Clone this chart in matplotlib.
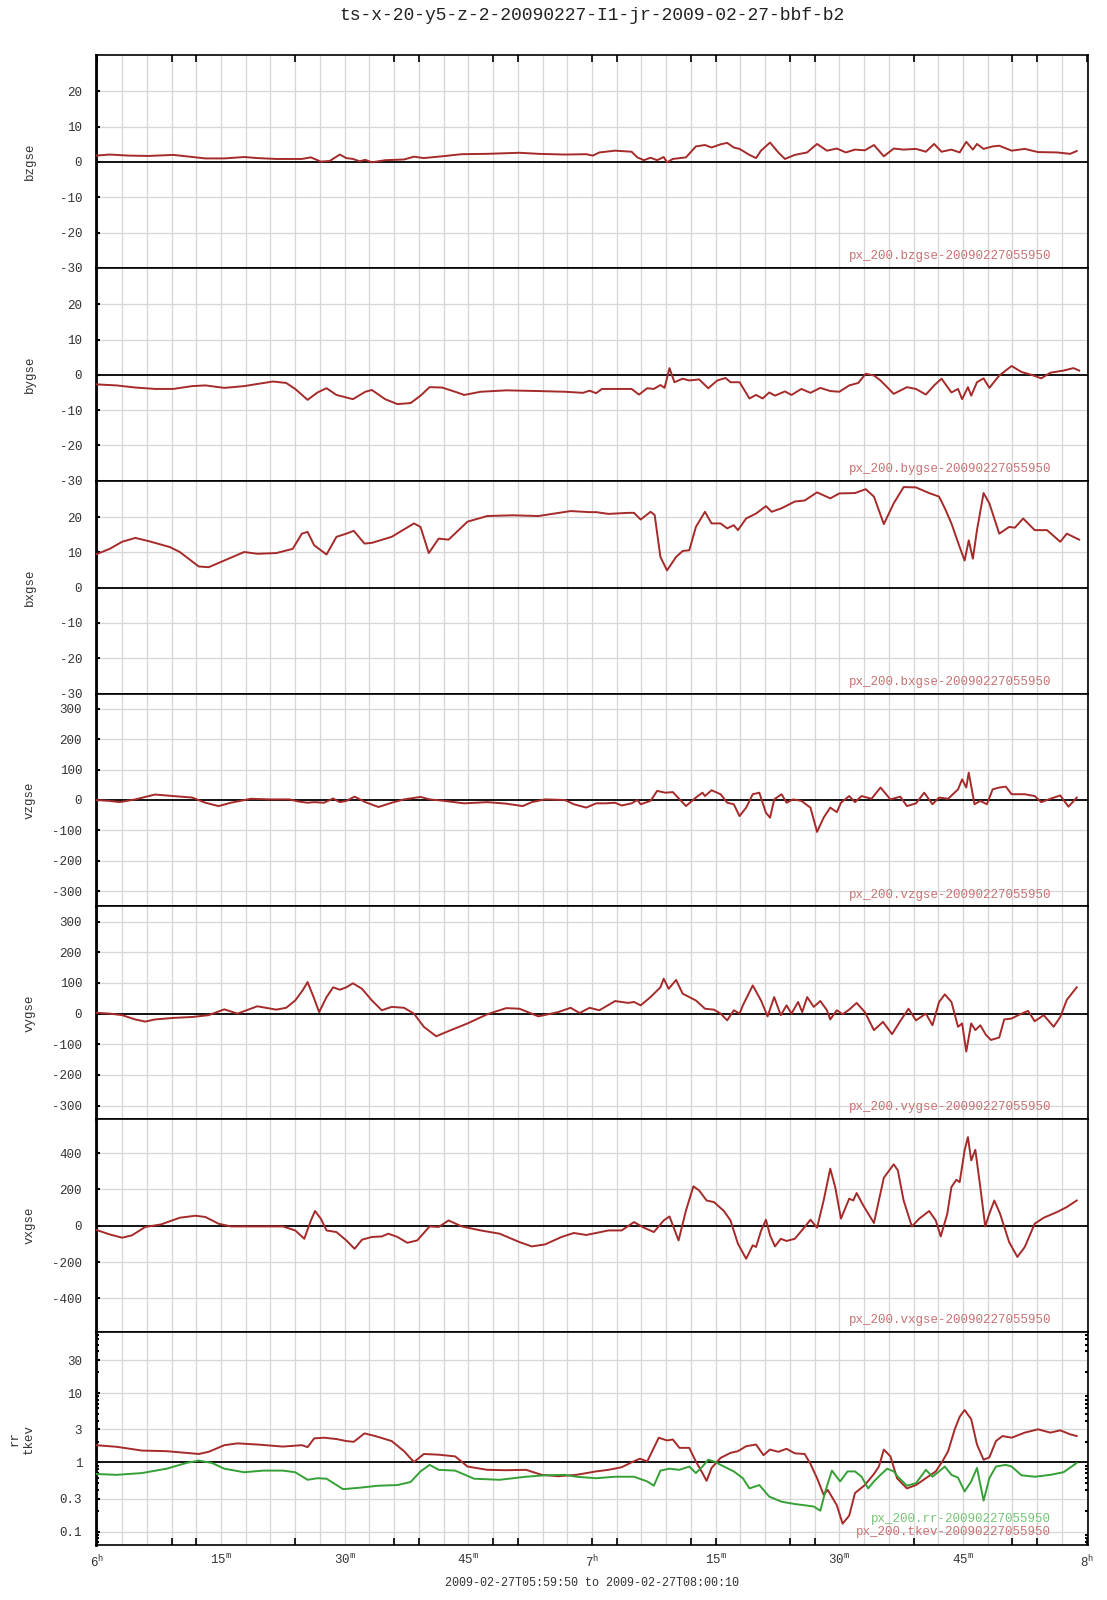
import matplotlib
matplotlib.use('Agg')
import matplotlib.pyplot as plt
from matplotlib.ticker import FixedLocator, NullFormatter
import numpy as np

plt.rcParams['font.family'] = ['Liberation Mono', 'DejaVu Sans Mono']
plt.rcParams['axes.unicode_minus'] = False
plt.rcParams['mathtext.fontset'] = 'custom'
plt.rcParams['mathtext.rm'] = 'Liberation Mono'

# ---------------- data (time in minutes after 06:00) ----------------
bz_t = [-0.2, 1.5, 3.8, 6.2, 9.2, 10.8, 13.1, 15.4, 17.8, 19.4, 21.7, 24.8, 25.9, 26.7, 27.1, 28.2, 29.4, 30.2,
        31.0, 31.8, 32.5, 33.3, 34.9, 37.2, 38.4, 39.6, 41.8, 44.2, 47.3, 51.2, 53.5, 56.7, 59.3, 60.1, 60.9,
        62.8, 64.8, 65.5, 66.3, 67.1, 67.9, 68.7, 69.1, 69.8, 71.4, 72.6, 73.7, 74.5, 75.6, 76.4, 77.2, 77.9,
        79.1, 79.9, 80.5, 81.6, 82.6, 83.4, 84.6, 86.1, 87.3, 88.5, 89.7, 90.8, 91.9, 93.1, 94.2, 95.4, 96.6,
        97.8, 99.3, 100.5, 101.5, 102.4, 103.6, 104.6, 105.4, 106.2, 106.7, 107.5, 108.6, 109.4, 110.9, 112.5,
        114.1, 116.4, 118.0, 118.8]
bz_v = [1.8, 2.1, 1.8, 1.7, 2.0, 1.6, 1.0, 1.0, 1.4, 1.1, 0.85, 0.85, 1.3, 0.5, 0.1, 0.3, 2.1, 1.1,
        0.85, 0.2, 0.6, -0.1, 0.5, 0.7, 1.5, 1.1, 1.6, 2.2, 2.3, 2.6, 2.3, 2.1, 2.2, 1.8, 2.7,
        3.2, 2.9, 1.3, 0.5, 1.2, 0.5, 1.4, -0.1, 0.85, 1.3, 4.4, 4.8, 4.1, 5.0, 5.4, 4.1, 3.7,
        2.0, 1.1, 3.2, 5.5, 2.7, 0.85, 2.0, 2.7, 5.1, 3.2, 3.8, 2.7, 3.5, 3.3, 4.8, 1.6, 3.8,
        3.5, 3.7, 2.9, 5.1, 2.9, 3.5, 2.7, 5.7, 3.5, 5.1, 3.7, 4.4, 4.6, 3.2, 3.7,
        2.8, 2.7, 2.3, 3.1]

by_t = [-0.2, 2.3, 4.6, 7.0, 9.2, 11.5, 13.1, 15.4, 17.8, 19.4, 21.3, 22.9, 24.0, 25.5, 26.7, 27.8, 29.0,
        31.0, 32.5, 33.3, 34.9, 36.4, 38.0, 39.2, 40.3, 41.8, 43.4, 44.5, 46.5, 49.6, 53.5, 56.7, 58.9,
        59.7, 60.5, 61.2, 62.8, 64.8, 65.7, 66.7, 67.5, 68.3, 68.8, 69.4, 70.0, 71.0, 71.8, 73.0, 74.1,
        75.2, 76.2, 76.8, 77.9, 79.1, 79.9, 80.7, 81.5, 82.2, 83.4, 84.2, 85.4, 86.5, 87.7, 88.9, 90.0,
        91.2, 92.3, 93.2, 94.2, 95.0, 96.6, 98.2, 99.3, 100.5, 101.5, 102.4, 103.6, 104.4, 104.9, 105.6,
        106.0, 106.7, 107.5, 108.2, 109.4, 110.9, 112.1, 113.3, 114.5, 115.6, 117.2, 118.4, 119.1]
by_v = [-2.7, -3.0, -3.6, -4.0, -4.0, -3.2, -3.0, -3.7, -3.2, -2.6, -1.9, -2.3, -4.0, -7.1, -5.0, -3.8, -5.7,
        -6.9, -4.8, -4.3, -6.9, -8.3, -8.0, -5.9, -3.5, -3.6, -4.8, -5.7, -4.8, -4.4, -4.6, -4.8, -5.1,
        -4.5, -5.2, -4.0, -4.0, -4.0, -5.6, -3.8, -4.0, -2.9, -3.7, 1.9, -2.1, -1.1, -1.6, -1.3, -3.8,
        -1.6, -0.9, -2.1, -2.1, -6.7, -5.7, -6.7, -5.0, -5.9, -4.7, -5.7, -4.0, -5.1, -3.7, -4.6, -4.8,
        -3.0, -2.3, 0.3, -0.2, -1.6, -5.4, -3.5, -4.0, -5.6, -3.0, -1.1, -5.0, -4.0, -6.9, -3.5,
        -5.9, -2.1, -1.0, -3.7, -0.2, 2.5, 0.8, 0.0, -1.0, 0.6, 1.2, 1.9, 1.2]

bx_t = [-0.2, 1.5, 3.0, 4.6, 6.2, 8.8, 10.0, 12.3, 13.5, 15.4, 17.8, 19.4, 21.7, 23.7, 24.8, 25.5, 26.3,
        27.8, 29.0, 30.2, 31.1, 32.4, 33.3, 35.7, 38.4, 39.2, 40.2, 41.4, 42.6, 44.9, 47.3, 50.4, 53.5,
        57.4, 59.7, 60.5, 62.0, 64.4, 65.1, 65.9, 67.1, 67.6, 68.3, 69.1, 70.2, 71.0, 71.8, 72.6, 73.7,
        74.5, 75.6, 76.4, 77.2, 77.7, 78.7, 79.9, 81.1, 81.8, 83.0, 84.6, 85.8, 87.3, 88.9, 90.0, 91.9,
        93.2, 94.2, 95.4, 96.6, 97.8, 99.3, 100.9, 102.1, 102.8, 103.6, 104.6, 105.2, 105.7, 106.2, 106.7,
        107.5, 108.2, 109.4, 110.6, 111.3, 112.3, 113.7, 115.2, 116.8, 117.6, 119.1]
bx_v = [9.4, 11.0, 13.0, 14.1, 13.2, 11.5, 10.1, 6.0, 5.8, 7.7, 10.1, 9.6, 9.8, 11.0, 15.3, 15.8, 12.0,
        9.4, 14.4, 15.3, 16.1, 12.5, 12.7, 14.4, 18.2, 17.2, 9.8, 13.9, 13.6, 18.7, 20.3, 20.5, 20.3,
        21.7, 21.4, 21.4, 20.9, 21.2, 21.2, 19.3, 21.5, 20.6, 8.7, 4.9, 8.7, 10.4, 10.6, 17.2, 21.5,
        18.2, 18.2, 16.8, 17.7, 16.3, 19.6, 21.0, 23.1, 21.5, 22.5, 24.4, 24.7, 27.0, 25.3, 26.7, 26.8,
        27.9, 25.8, 18.0, 23.9, 28.5, 28.4, 26.8, 25.8, 22.5, 18.2, 11.5, 7.7, 13.4, 8.2, 16.3,
        26.8, 23.9, 15.3, 17.2, 17.0, 19.6, 16.3, 16.3, 13.0, 15.3, 13.6]

vz_t = [-0.2, 1.5, 2.7, 4.6, 7.0, 9.2, 11.5, 13.1, 14.7, 16.2, 18.6, 20.9, 23.3, 24.4, 25.5, 26.3, 27.5,
        28.6, 29.4, 30.2, 31.2, 32.5, 34.1, 35.7, 37.2, 39.2, 40.3, 41.8, 44.5, 47.3, 49.6, 51.6, 52.7,
        54.3, 56.7, 57.8, 59.3, 60.5, 61.6, 62.8, 63.6, 64.8, 65.5, 65.9, 67.1, 67.9, 68.9, 69.8, 71.4,
        72.6, 73.4, 73.7, 74.5, 75.6, 76.4, 77.2, 77.9, 78.7, 79.5, 80.3, 81.1, 81.6, 82.1, 83.0, 83.6,
        84.4, 85.4, 86.5, 87.3, 88.1, 88.9, 89.7, 90.2, 91.2, 91.9, 92.7, 93.9, 95.0, 96.2, 97.4, 98.2,
        99.3, 100.3, 101.3, 102.1, 103.2, 104.4, 104.9, 105.4, 105.7, 106.4, 107.1, 107.9, 108.6, 109.4,
        110.2, 110.9, 112.5, 113.7, 114.5, 115.6, 116.8, 117.8, 118.8]
vz_v = [0, -3, -7, 2, 18, 13, 8, -9, -20, -9, 4, 2, 2, -5, -9, -7, -9,
        5, -7, -3, 11, -7, -23, -9, 2, 10, 2, -2, -11, -7, -12, -20, -7,
        2, 0, -14, -25, -11, -11, -9, -18, -11, 0, -14, -3, 30, 24, 26, -20,
        8, 24, 13, 32, 19, -9, -14, -53, -25, 19, 24, -42, -58, 2, 19, -9,
        2, -3, -25, -105, -58, -25, -40, -9, 13, -7, 13, 4, 41, 2, 11, -20,
        -11, 24, -14, 8, 4, 35, 68, 41, 90, -14, -3, -14, 35, 41,
        44, 19, 19, 13, -7, 4, 15, -22, 8]

vy_t = [-0.2, 1.5, 3.0, 4.6, 5.8, 7.0, 9.2, 11.5, 13.5, 15.4, 17.0, 19.4, 21.7, 22.9, 24.0, 24.9, 25.5,
        26.3, 26.9, 27.8, 28.6, 29.4, 30.2, 31.0, 32.1, 33.3, 34.5, 35.7, 37.2, 38.4, 39.6, 41.1, 42.6,
        44.9, 47.3, 49.6, 51.2, 53.5, 55.9, 57.4, 58.5, 59.7, 60.9, 62.8, 64.4, 65.1, 65.9, 67.1, 68.3,
        68.7, 69.3, 70.2, 71.0, 72.6, 73.7, 74.8, 75.6, 76.4, 77.2, 77.9, 78.3, 79.5, 80.5, 81.3, 82.1,
        82.9, 83.6, 84.2, 85.0, 85.5, 86.1, 86.9, 87.7, 88.5, 88.9, 89.7, 90.4, 91.2, 92.1, 93.1, 94.2,
        95.3, 96.4, 97.4, 98.4, 99.3, 100.5, 101.3, 102.1, 102.8, 103.6, 104.4, 104.9, 105.4, 106.0,
        106.5, 107.1, 107.8, 108.4, 109.4, 110.0, 110.9, 111.7, 112.9, 113.7, 114.8, 116.0, 116.8, 117.6,
        118.8]
vy_v = [3, 0, -5, -19, -26, -19, -14, -11, -5, 14, 0, 24, 13, 19, 43, 76, 103,
        49, 5, 54, 86, 78, 86, 99, 81, 43, 11, 22, 19, 0, -43, -74, -57,
        -32, -2, 18, 16, -9, 5, 19, 2, 19, 11, 41, 35, 38, 27, 54, 86,
        114, 81, 110, 65, 43, 16, 13, 0, -22, 11, 0, 27, 92, 43, -9, 54,
        -5, 27, 0, 38, 5, 54, 22, 41, 11, -19, 11, -2, 13, 35, 5, -54,
        -27, -67, -24, 16, -22, 0, -38, 38, 63, 38, -43, -32, -124, -32,
        -54, -38, -70, -86, -78, -19, -16, -5, 9, -25, -5, -43, -11, 45,
        86]

vx_t = [-0.2, 1.5, 3.0, 4.2, 5.8, 7.7, 10.0, 11.9, 13.1, 14.7, 16.2, 19.4, 22.5, 24.0, 25.1, 25.9, 26.4,
        27.1, 27.8, 29.0, 30.2, 31.2, 32.1, 33.3, 34.5, 35.3, 36.4, 37.6, 38.8, 40.3, 41.4, 42.6, 44.2,
        46.5, 48.8, 51.2, 52.7, 54.3, 56.3, 57.8, 59.3, 60.5, 62.0, 63.6, 65.1, 66.3, 67.5, 68.7, 69.4,
        70.5, 71.4, 72.3, 73.0, 73.9, 74.8, 76.0, 76.8, 77.7, 78.7, 79.5, 79.9, 80.5, 81.1, 81.6, 82.2,
        82.9, 83.6, 84.6, 85.8, 86.5, 87.3, 88.1, 88.9, 89.5, 90.2, 91.2, 91.7, 92.1, 92.9, 94.2, 95.4,
        96.6, 97.1, 97.8, 98.8, 99.7, 100.9, 101.7, 102.3, 103.1, 103.6, 104.2, 104.6, 105.2, 105.6,
        106.0, 106.5, 107.1, 107.7, 108.2, 108.8, 109.5, 110.6, 111.6, 112.5, 113.7, 114.8, 116.4, 117.6,
        118.8]
vx_v = [-22, -48, -66, -53, -7, 7, 44, 55, 48, 11, -4, -4, -4, -26, -72, 29, 81,
        39, -26, -35, -81, -127, -77, -62, -59, -44, -62, -94, -81, -4, -7, 29, -4,
        -26, -44, -90, -114, -103, -62, -40, -51, -40, -26, -26, 20, -11, -35, 29, 51,
        -81, 84, 217, 194, 139, 130, 81, 29, -99, -182, -108, -117, -29, 33, -53, -114,
        -72, -84, -72, -7, 33, -11, 139, 314, 213, 39, 149, 139, 180, 112, 15, 264,
        338, 305, 139, -4, 39, 81, 29, -59, 66, 213, 253, 240, 415, 488,
        360, 418, 213, -4, 66, 139, 66, -90, -172, -117, 11, 44, 75, 103,
        139]

tkev_t = [-0.2, 2.3, 5.4, 8.4, 10.8, 12.3, 13.5, 15.4, 17.0, 19.4, 22.5, 24.8, 25.5, 26.3, 27.5, 29.0,
          30.2, 31.1, 32.4, 33.7, 35.7, 37.2, 38.4, 39.6, 41.4, 43.4, 44.9, 47.3, 49.6, 52.0, 53.9, 55.9,
          58.1, 60.5, 62.0, 63.6, 64.8, 65.8, 66.7, 67.5, 68.1, 69.1, 69.8, 70.6, 71.8, 72.6, 73.4, 73.9,
          74.5, 75.6, 76.8, 77.7, 78.7, 79.9, 80.8, 81.6, 82.6, 83.6, 84.6, 85.8, 86.5, 87.3, 88.1, 88.6,
          89.7, 90.4, 91.2, 91.9, 93.1, 94.2, 94.8, 95.4, 96.2, 97.0, 98.2, 99.3, 100.5, 101.7, 102.5,
          103.2, 104.0, 104.6, 105.2, 106.0, 106.7, 107.5, 108.2, 109.0, 109.8, 110.9, 112.5, 114.1, 115.6,
          116.8, 118.0, 118.8]
tkev_v = [1.77, 1.68, 1.48, 1.45, 1.37, 1.32, 1.42, 1.77, 1.88, 1.81, 1.69, 1.77, 1.66, 2.22, 2.27, 2.17,
          2.03, 1.98, 2.62, 2.40, 2.03, 1.45, 1.01, 1.32, 1.29, 1.22, 0.87, 0.78, 0.77, 0.78, 0.66, 0.63,
          0.66, 0.74, 0.78, 0.85, 1.0, 1.13, 1.03, 1.62, 2.27, 2.07, 2.14, 1.62, 1.62, 1.03, 0.70, 0.54,
          0.83, 1.16, 1.37, 1.45, 1.71, 1.81, 1.27, 1.53, 1.42, 1.57, 1.35, 1.32, 0.95, 0.59, 0.34, 0.40,
          0.24, 0.13, 0.17, 0.36, 0.47, 0.68, 0.87, 1.53, 1.22, 0.59, 0.42, 0.47, 0.59, 0.74, 1.03,
          1.45, 3.0, 4.55, 5.7, 4.2, 1.81, 1.09, 1.18, 2.03, 2.40, 2.27, 2.69, 3.0, 2.69,
          2.90, 2.54, 2.40]

rr_t = [-0.2, 2.3, 5.4, 8.4, 10.8, 12.3, 13.9, 15.4, 17.8, 20.1, 22.5, 24.0, 25.5, 26.7, 27.8, 29.8, 31.8,
        34.1, 36.4, 38.0, 39.2, 40.3, 41.4, 43.4, 45.7, 48.8, 52.0, 54.3, 56.7, 58.1, 60.5, 62.8, 65.1,
        66.7, 67.5, 68.3, 69.4, 70.6, 71.8, 72.6, 73.4, 74.1, 74.8, 76.0, 77.2, 78.3, 79.1, 80.3, 81.5,
        83.0, 84.6, 85.8, 86.9, 87.7, 88.3, 89.1, 90.1, 91.0, 91.9, 92.7, 93.5, 94.2, 95.0, 95.8, 96.6,
        97.1, 98.2, 99.3, 100.5, 101.3, 102.1, 102.8, 103.6, 104.4, 105.2, 106.0, 106.7, 107.5, 108.2,
        109.0, 110.2, 110.9, 112.1, 113.7, 115.6, 117.2, 118.8]
rr_v = [0.68, 0.66, 0.70, 0.81, 0.98, 1.06, 0.98, 0.81, 0.72, 0.76, 0.76, 0.72, 0.56, 0.59, 0.58, 0.41, 0.43,
        0.46, 0.47, 0.52, 0.74, 0.92, 0.78, 0.76, 0.58, 0.56, 0.62, 0.65, 0.66, 0.62, 0.59, 0.62, 0.62,
        0.53, 0.46, 0.76, 0.81, 0.78, 0.87, 0.70, 0.87, 1.09, 1.03, 0.87, 0.74, 0.59, 0.42, 0.47, 0.32,
        0.27, 0.25, 0.24, 0.23, 0.20, 0.38, 0.76, 0.53, 0.74, 0.74, 0.62, 0.42, 0.53, 0.66, 0.81, 0.74,
        0.62, 0.46, 0.50, 0.78, 0.62, 0.74, 0.87, 0.66, 0.60, 0.38, 0.53, 0.83, 0.28, 0.59,
        0.87, 0.92, 0.87, 0.65, 0.62, 0.66, 0.72, 0.98]

title = "ts-x-20-y5-z-2-20090227-I1-jr-2009-02-27-bbf-b2"
panel_names = ["bzgse", "bygse", "bxgse", "vzgse", "vygse", "vxgse", "rr\ntkev"]
legend_texts = ["px_200.bzgse-20090227055950", "px_200.bygse-20090227055950",
                "px_200.bxgse-20090227055950", "px_200.vzgse-20090227055950",
                "px_200.vygse-20090227055950", "px_200.vxgse-20090227055950"]
legend_rr = "px_200.rr-20090227055950"
legend_tkev = "px_200.tkev-20090227055950"
b_ticks = [-30, -20, -10, 0, 10, 20]
vzy_ticks = [-300, -200, -100, 0, 100, 200, 300]
vx_ticks = [-400, -200, 0, 200, 400]
log_ticks = [0.1, 0.3, 1, 3, 10, 30]
log_labels = ["0.1", "0.3", "1", "3", "10", "30"]
x_major = [0, 15, 30, 45, 60, 75, 90, 105, 120]
x_labels = [r"6$^{\mathregular{h}}$", r"15$^{\mathregular{m}}$", r"30$^{\mathregular{m}}$",
            r"45$^{\mathregular{m}}$", r"7$^{\mathregular{h}}$", r"15$^{\mathregular{m}}$",
            r"30$^{\mathregular{m}}$", r"45$^{\mathregular{m}}$", r"8$^{\mathregular{h}}$"]
x_tickmarks = [0, 9, 12, 24, 36, 39, 48, 51, 60, 63, 72, 75, 84, 87, 99, 111, 114, 120]
time_range = "2009-02-27T05:59:50 to 2009-02-27T08:00:10"

# ---------------- styling ----------------
RED = '#a52a2a'
GREEN = '#35a035'
RED_TXT = '#c87272'
GREEN_TXT = '#74c474'
GRID = '#d6d6d6'
TXT = '#333333'

W, H = 1107, 1600
left_px, right_px, top_px, bot_px = 96, 1088, 55, 1545
ph = (bot_px - top_px) / 7.0

fig = plt.figure(figsize=(W / 100, H / 100), dpi=100)
fig.patch.set_facecolor('white')

specs = [
    (bz_t, bz_v, (-30, 30.3), b_ticks),
    (by_t, by_v, (-30, 30.3), b_ticks),
    (bx_t, bx_v, (-30, 30.3), b_ticks),
    (vz_t, vz_v, (-350, 350), vzy_ticks),
    (vy_t, vy_v, (-345, 350), vzy_ticks),
    (vx_t, vx_v, (-586, 586), vx_ticks),
]

axes = []
for i in range(7):
    y0 = 1 - (top_px + (i + 1) * ph) / H
    ax = fig.add_axes([left_px / W, y0, (right_px - left_px) / W, ph / H])
    ax.set_xlim(-1 / 6, 120 + 1 / 6)
    for m in np.arange(0, 121, 3):
        ax.axvline(m, color=GRID, lw=0.9, zorder=0)
    for sp in ax.spines.values():
        sp.set_color('black')
        sp.set_linewidth(1.2)
    ax.spines['left'].set_linewidth(2.0)
    ax.tick_params(axis='x', which='both', bottom=False, top=False, labelbottom=False)
    ax.tick_params(axis='y', which='major', left=True, right=False, direction='in', length=3,
                   width=1.5, labelsize=9, labelcolor=TXT, pad=10)
    axes.append(ax)

for i, (t, v, ylim, ticks) in enumerate(specs):
    ax = axes[i]
    ax.set_ylim(*ylim)
    ax.set_yticks(ticks)
    ax.set_yticklabels([str(k) for k in ticks])
    for k in ticks:
        if k != 0:
            ax.axhline(k, color=GRID, lw=0.9, zorder=0)
    ax.axhline(0, color='black', lw=1.3, zorder=1)
    ax.plot(t, v, color=RED, lw=1.4, zorder=3)
    ax.text(0.963, 0.056, legend_texts[i], transform=ax.transAxes, ha='right', va='center',
            fontsize=9, color=RED_TXT, zorder=2)

# log panel
ax = axes[6]
ax.set_yscale('log')
ax.set_ylim(0.064, 76)
ax.set_yticks(log_ticks)
ax.set_yticklabels(log_labels)
ax.yaxis.set_minor_formatter(NullFormatter())
ax.tick_params(axis='y', which='minor', left=True, right=True, direction='in', length=2.5, width=1.5)
for k in log_ticks:
    if k != 1:
        ax.axhline(k, color=GRID, lw=0.9, zorder=0)
ax.axhline(1, color='black', lw=1.3, zorder=1)
ax.plot(tkev_t, tkev_v, color=RED, lw=1.4, zorder=3)
ax.plot(rr_t, rr_v, color=GREEN, lw=1.4, zorder=3)
ax.text(0.963, 0.122, legend_rr, transform=ax.transAxes, ha='right', va='center',
        fontsize=9, color=GREEN_TXT, zorder=2)
ax.text(0.963, 0.059, legend_tkev, transform=ax.transAxes, ha='right', va='center',
        fontsize=9, color=RED_TXT, zorder=2)

# x ticks / labels on bottom panel
ax.xaxis.remove_overlapping_locs = False
ax.set_xticks(x_major)
ax.set_xticklabels(x_labels)
ax.xaxis.set_minor_locator(FixedLocator(x_tickmarks))
ax.tick_params(axis='x', which='major', bottom=True, length=0, labelbottom=True,
               labelsize=9, labelcolor=TXT, pad=6)
ax.tick_params(axis='x', which='minor', bottom=True, direction='in', length=5, width=1.2)

# top tick marks on first panel
ax0 = axes[0]
ax0.xaxis.remove_overlapping_locs = False
ax0.xaxis.set_minor_locator(FixedLocator(x_tickmarks))
ax0.tick_params(axis='x', which='minor', top=True, bottom=False, direction='in', length=5, width=1.2)

# y labels
for i, name in enumerate(panel_names):
    yc = 1 - (top_px + (i + 0.5) * ph) / H
    fig.text(30 / W if i < 6 else 22 / W, yc, name, rotation=90, ha='center', va='center',
             fontsize=9, color=TXT, multialignment='center', linespacing=1.3)

fig.text((left_px + right_px) / 2 / W, 1 - 15 / H, title, ha='center', va='center',
         fontsize=13, color='#222222')
fig.text((left_px + right_px) / 2 / W, 1 - 1583 / H, time_range, ha='center', va='center',
         fontsize=8.5, color=TXT)

fig.savefig('out.png', dpi=100)
